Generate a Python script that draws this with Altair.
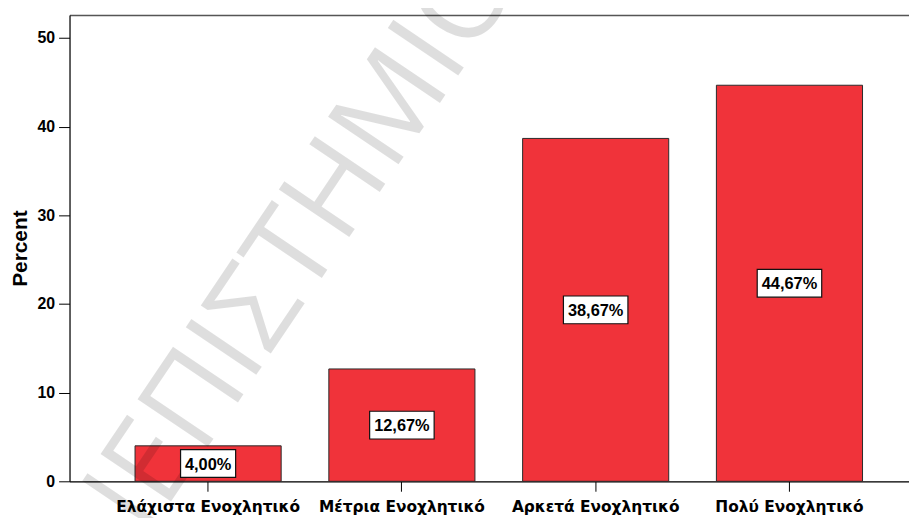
import altair as alt
import pandas as pd

categories = ["Ελάχιστα Ενοχλητικό", "Μέτρια Ενοχλητικό", "Αρκετά Ενοχλητικό", "Πολύ Ενοχλητικό"]
percents = [4.00, 12.67, 38.67, 44.67]
labels = ["4,00%", "12,67%", "38,67%", "44,67%"]
y_ticks = [0, 10, 20, 30, 40, 50]
watermark_text = ["ΠΑΝΕΠΙΣΤΗΜΙΟ"]

df = pd.DataFrame({"cat": categories, "pct": percents, "label": labels})

FONT = "Liberation Sans"
x_scale = alt.Scale(paddingInner=0.246, paddingOuter=0.289, align=0.585)
y_scale = alt.Scale(domain=[0, 52.6], nice=False)

bars = alt.Chart(df).mark_bar(
    color="#F0333A", stroke="#2a2a2a", strokeWidth=1
).encode(
    x=alt.X(
        "cat:N", sort=categories, title=None, scale=x_scale,
        axis=alt.Axis(
            orient="bottom", labelAngle=0, labelFont="DejaVu Sans", labelFontSize=15.5,
            labelFontWeight="bold", labelColor="#000000", tickSize=10, labelLimit=400,
            tickColor="#000000", domainColor="#000000", labelPadding=8, domainWidth=1.2,
        ),
    ),
    y=alt.Y(
        "pct:Q", scale=y_scale, title="Percent",
        axis=alt.Axis(
            values=y_ticks, grid=False, labelFont=FONT, labelFontSize=16,
            labelFontWeight="bold", labelColor="#000000", tickSize=11,
            tickColor="#000000", domainColor="#000000", domainWidth=1.2, labelPadding=4,
            titleFont=FONT, titleFontSize=21, titleFontWeight="bold",
            titleColor="#000000", titlePadding=7,
        ),
    ),
)

wm = alt.Chart(pd.DataFrame({"t": watermark_text})).mark_text(
    font="Open Sans", fontSize=120, fontWeight=400, angle=304,
    align="center", baseline="alphabetic", fill="#000000", fillOpacity=0.13,
).encode(text="t:N", x=alt.value(205), y=alt.value(338))

boxes = alt.Chart(df).transform_calculate(
    mid="datum.pct / 2",
    boxw="length(datum.label) * 9.5 + 8",
    r="14 / (datum.boxw / 2)",
    path="'M-1,-' + datum.r + 'L1,-' + datum.r + 'L1,' + datum.r + 'L-1,' + datum.r + 'Z'",
    sz="datum.boxw * datum.boxw",
).mark_point(
    filled=True, fill="#FFFFFF", stroke="#111111", strokeWidth=1.2, opacity=1
).encode(
    x=alt.X("cat:N", sort=categories, axis=None),
    y=alt.Y("mid:Q", scale=y_scale),
    shape=alt.Shape("path:N", scale=None),
    size=alt.Size("sz:Q", scale=None),
)

texts = alt.Chart(df).transform_calculate(mid="datum.pct / 2").mark_text(
    font=FONT, fontSize=16.5, fontWeight="bold", color="#000000", baseline="middle", dy=1
).encode(
    x=alt.X(
        "cat:N", sort=categories, title=None,
        axis=alt.Axis(orient="top", labels=False, ticks=False, domain=True,
                      domainColor="#555555", domainWidth=1.6),
    ),
    y=alt.Y("mid:Q", scale=y_scale),
    text="label:N",
)

chart = alt.layer(bars, wm, boxes, texts).resolve_axis(x="independent").properties(
    width=846, height=470,
    autosize=alt.AutoSizeParams(type="none"),
    padding={"left": 62, "top": 5, "right": 0, "bottom": 35},
).configure_view(
    fill="#E2E2E2", strokeWidth=0
).configure(background="#FFFFFF")

chart.save("out.html", embed_options={"renderer": "svg", "actions": False})
